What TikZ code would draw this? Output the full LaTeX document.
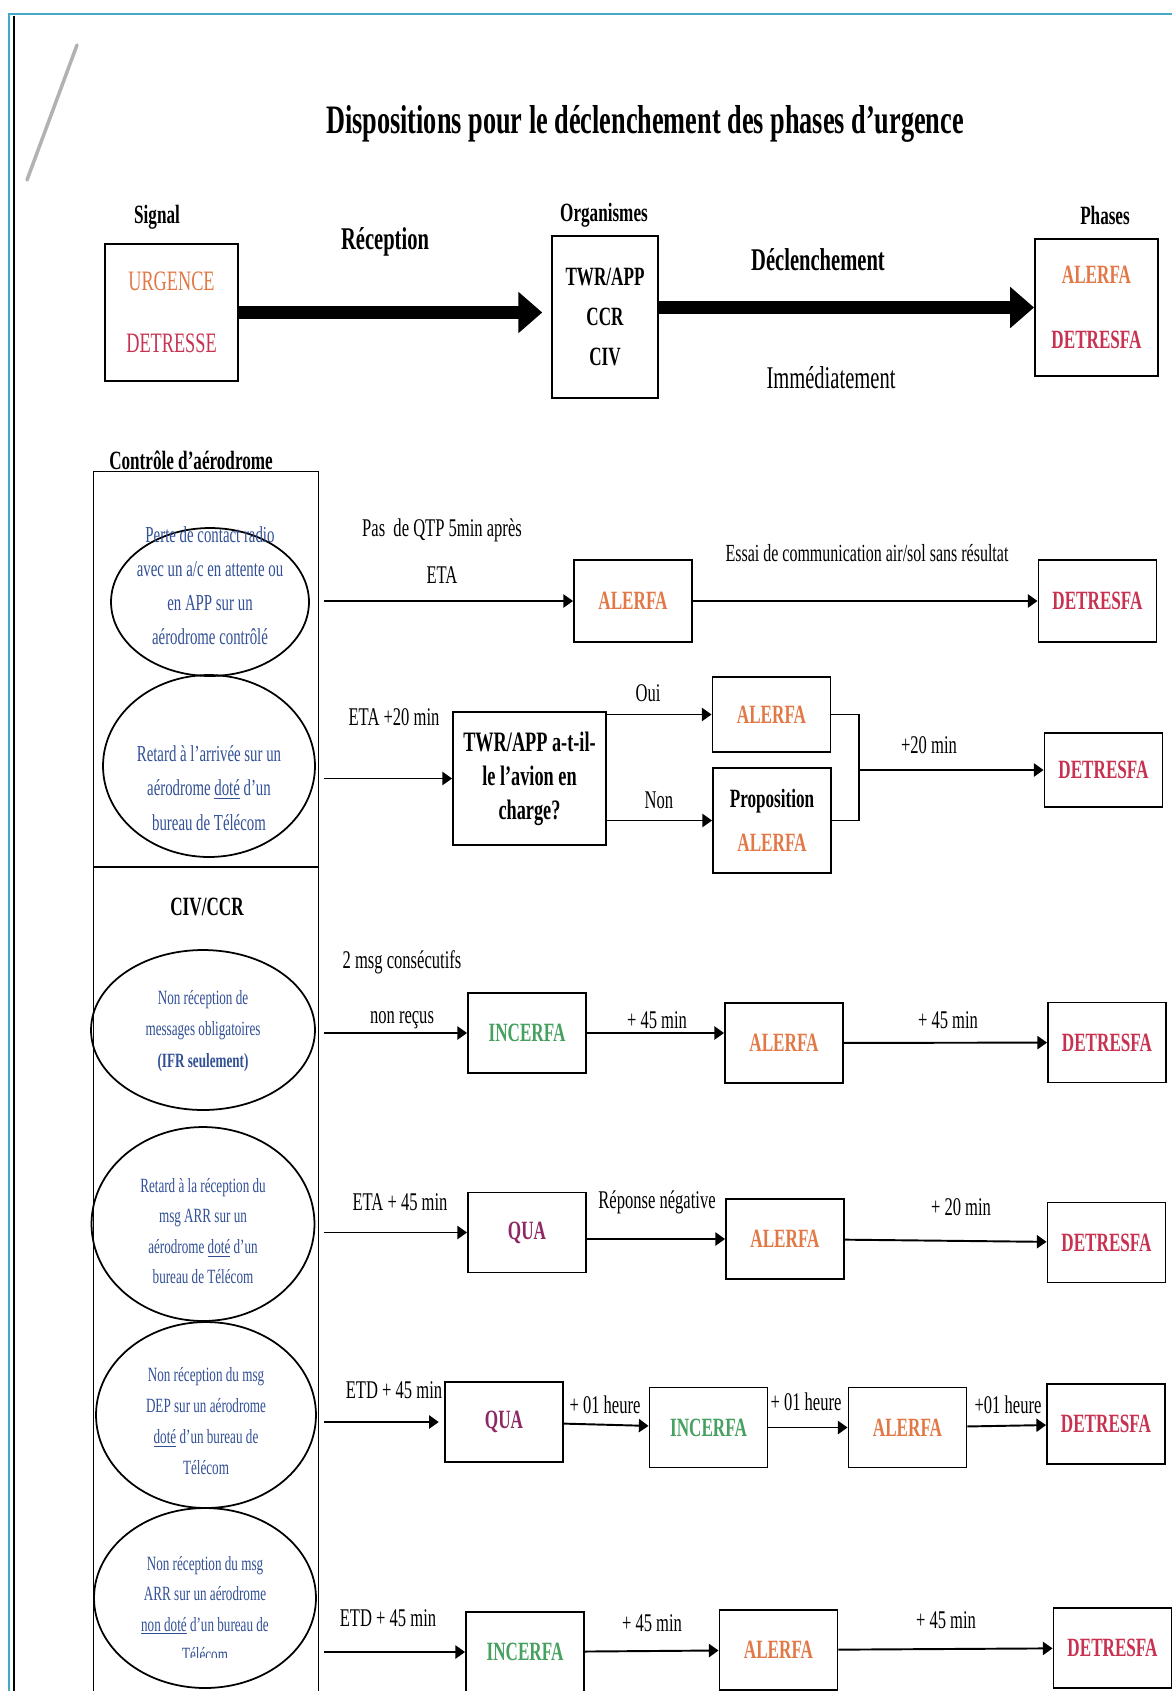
\documentclass[tikz,border=0pt]{standalone}
\usepackage{fontspec}
\setmainfont{Liberation Serif}[FakeStretch=0.65]
\usepackage{tikz}
\usetikzlibrary{arrows.meta,positioning,shapes.geometric}

\definecolor{alertc}{RGB}{226,120,70}
\definecolor{distc}{RGB}{200,50,80}
\definecolor{incc}{RGB}{70,160,95}
\definecolor{quac}{RGB}{140,40,100}
\definecolor{condc}{RGB}{50,80,150}
\definecolor{framec}{RGB}{69,169,198}

\begin{document}
\begin{tikzpicture}[x=0.02cm, y=-0.02cm,
  phasebox/.style={rectangle, draw, line width=1.1pt, minimum width=2.36cm, minimum height=1.6cm,
    inner sep=0pt, align=center, font=\fontsize{15}{18}\selectfont\bfseries},
  orgbox/.style={rectangle, draw, line width=1.1pt, inner sep=0pt, align=center},
  cond/.style={ellipse, draw, line width=1pt, inner sep=0pt},
  condtxt/.style={align=center, text=condc, inner sep=0pt},
  lbl/.style={font=\fontsize{14.5}{17}\selectfont, inner sep=1pt},
  head/.style={font=\fontsize{15}{18}\selectfont\bfseries, inner sep=1pt},
  arr/.style={-{Triangle[length=5.5pt,width=7.5pt]}, line width=1.1pt},
  bigarr/.style={-{Triangle[length=13.6pt,width=22.7pt]}, line width=7.4pt}
]
\useasboundingbox (0,0) rectangle (1172,1691);
\fill[white] (0,0) rectangle (1172,1691);

% page edge and pen mark
\draw[framec, line width=1.7pt] (9,1691) -- (9,14) -- (1172,14);
\draw[line width=0.6pt] (14,16) -- (14,1691);
\draw[gray!60, line width=2pt, line cap=round] (27,180) -- (77,45);

\node[font=\fontsize{23}{27}\selectfont\bfseries] (title) at (645,124) {Dispositions pour le déclenchement des phases d’urgence};

% header row
\node[head] (lblsig) at (157,217) {Signal};
\node[head] (lblorg) at (604,215) {Organismes};
\node[head] (lblpha) at (1105,215) {Phases};

\node[orgbox, minimum width=2.66cm, minimum height=2.74cm, font=\fontsize{16}{35}\selectfont] (sig) at (171.5,312.5)
  {\textcolor{alertc}{URGENCE}\\\textcolor{distc}{DETRESSE}};
\node[orgbox, minimum width=2.12cm, minimum height=3.24cm, font=\fontsize{15}{22.7}\selectfont\bfseries] (org) at (605,317)
  {TWR/APP\\CCR\\CIV};
\node[orgbox, minimum width=2.46cm, minimum height=2.74cm, font=\fontsize{15}{37}\selectfont\bfseries] (pha) at (1096.5,307.5)
  {\textcolor{alertc}{ALERFA}\\\textcolor{distc}{DETRESFA}};

\node[font=\fontsize{18}{21}\selectfont\bfseries] (recep) at (385,242) {Réception};
\node[font=\fontsize{18}{21}\selectfont\bfseries] (declen) at (818,260) {Déclenchement};
\node[font=\fontsize{18}{21}\selectfont] (immed) at (831,378) {Immédiatement};

\draw[bigarr, shorten >=5pt] (sig.east) -- (sig.east -| org.west);
\draw[bigarr] (org.east |- pha) -- (pha.west);

% left column
\node[draw, line width=0.8pt, anchor=north west, minimum width=4.5cm, minimum height=25cm, inner sep=0pt] (ctrl) at (93,471) {};
\node[head, anchor=base] (lblctrl) at (191,469) {Contrôle d’aérodrome};
\coordinate (divl) at (93,867);
\draw[line width=0.8pt] (divl) -- (divl -| ctrl.east);
\node[head] (lblciv) at (207,907) {CIV/CCR};

\node[cond, minimum width=3.96cm, minimum height=2.96cm] (e1) at (210,602) {};
\node[cond, minimum width=4.24cm, minimum height=3.64cm] (e2) at (209,766) {};
\node[cond, minimum width=4.48cm, minimum height=3.2cm] (e3) at (203,1030) {};
\node[cond, minimum width=4.46cm, minimum height=3.88cm] (e4) at (203,1224) {};
\node[cond, minimum width=4.4cm, minimum height=3.72cm] (e5) at (206,1415) {};
\node[cond, minimum width=4.44cm, minimum height=3.6cm] (e6) at (205,1598) {};

\node[condtxt, font=\fontsize{13}{19.3}\selectfont] (t1) at (210,586)
  {Perte de contact radio\\avec un a/c en attente ou\\en APP sur un\\aérodrome contrôlé};
\node[condtxt, font=\fontsize{13}{19.5}\selectfont] (t2) at (209,788)
  {Retard à l’arrivée sur un\\aérodrome \underline{doté} d’un\\bureau de Télécom};
\node[condtxt, font=\fontsize{11.5}{17.9}\selectfont] (t3) at (203,1031)
  {Non réception de\\messages obligatoires\\\textbf{(IFR seulement)}};
\node[condtxt, font=\fontsize{11.5}{17.4}\selectfont] (t4) at (203,1231)
  {Retard à la réception du\\msg ARR sur un\\aérodrome \underline{doté} d’un\\bureau de Télécom};
\node[condtxt, font=\fontsize{11.5}{17.6}\selectfont] (t5) at (206,1421)
  {Non réception du msg\\DEP sur un aérodrome\\\underline{doté} d’un bureau de\\Télécom};
\begin{scope}
  \clip (0,0) rectangle (1172,1657);
  \node[condtxt, font=\fontsize{11.5}{17.2}\selectfont] (t6) at (205,1609)
    {Non réception du msg\\ARR sur un aérodrome\\\underline{non doté} d’un bureau de\\Télécom};
\end{scope}

% row 1
\node[phasebox, text=alertc, minimum height=1.64cm] (a1) at (633,601) {ALERFA};
\node[phasebox, text=distc, minimum height=1.64cm] (d1) at (1097.5,601) {DETRESFA};
\node[lbl] (l1a) at (442,530) {Pas~ de QTP 5min après};
\node[lbl] (l1b) at (442,575) {ETA};
\node[lbl, font=\fontsize{14}{16}\selectfont] (l1c) at (867,553) {Essai de communication air/sol sans résultat};
\draw[arr, shorten <=2.5pt] (ctrl.east |- a1) -- (a1);
\draw[arr] (a1) -- (d1);

% row 2
\node[orgbox, minimum width=3.06cm, minimum height=2.66cm, font=\fontsize{16}{19.3}\selectfont\bfseries] (q2) at (529.5,778.5)
  {TWR/APP a-t-il-\\le l’avion en\\charge?};
\node[phasebox, text=alertc, minimum height=1.5cm] (a2) at (771.5,714.5) {ALERFA};
\node[phasebox, minimum height=2.1cm, font=\fontsize{15}{25}\selectfont\bfseries] (p2) at (772,820.5)
  {Proposition\\\textcolor{alertc}{ALERFA}};
\node[phasebox, text=distc, minimum height=1.48cm] (d2) at (1103.5,770) {DETRESFA};
\node[lbl] (l2a) at (394,717) {ETA +20 min};
\node[lbl] (l2b) at (648,693) {Oui};
\node[lbl] (l2c) at (659,800) {Non};
\node[lbl] (l2d) at (929,745) {+20 min};
\draw[arr, shorten <=2.5pt] (ctrl.east |- q2) -- (q2);
\draw[arr] (q2.east |- a2) -- (a2);
\draw[arr] (q2.east |- p2) -- (p2);
\draw[line width=1.1pt] (a2.east) -- ++(28,0) |- (p2.east);
\coordinate (join2) at (859,770);
\draw[arr] (join2) -- (d2);

% row 3
\node[phasebox, text=incc] (i3) at (527,1033) {INCERFA};
\node[phasebox, text=alertc] (a3) at (784,1043) {ALERFA};
\node[phasebox, text=distc] (d3) at (1107,1042.5) {DETRESFA};
\node[lbl] (l3a) at (402,962) {2 msg consécutifs};
\node[lbl] (l3b) at (402,1020) {non reçus};
\node[lbl] (l3c) at (657,1020) {+ 45 min};
\node[lbl] (l3d) at (948,1020) {+ 45 min};
\draw[arr, shorten <=2.5pt] (ctrl.east |- i3) -- (i3);
\draw[arr] (i3.east) -- (i3.east -| a3.west);
\draw[arr] (a3) -- (d3);

% row 4
\node[phasebox, text=quac] (q4) at (527,1232.5) {QUA};
\node[phasebox, text=alertc] (a4) at (785,1239) {ALERFA};
\node[phasebox, text=distc] (d4) at (1106.5,1242.5) {DETRESFA};
\node[lbl] (l4a) at (400,1202) {ETA + 45 min};
\node[lbl] (l4b) at (657,1202) {Réponse négative};
\node[lbl] (l4c) at (961,1207) {+ 20 min};
\draw[arr, shorten <=2.5pt] (ctrl.east |- q4) -- (q4);
\draw[arr] (q4.east |- a4) -- (a4);
\draw[arr] (a4) -- (d4);

% row 5
\node[phasebox, text=quac] (q5) at (504,1422) {QUA};
\node[phasebox, text=incc] (i5) at (708.5,1427.5) {INCERFA};
\node[phasebox, text=alertc] (a5) at (907.5,1427.5) {ALERFA};
\node[phasebox, text=distc] (d5) at (1106,1424) {DETRESFA};
\node[lbl] (l5a) at (394,1390) {ETD + 45 min};
\node[lbl] (l5b) at (605,1405) {+ 01 heure};
\node[lbl] (l5c) at (806,1402) {+ 01 heure};
\node[lbl] (l5d) at (1008,1405) {+01 heure};
\draw[arr, shorten <=2.5pt, shorten >=3pt] (ctrl.east |- q5) -- (q5);
\draw[arr] (q5) -- (i5);
\draw[arr] (i5) -- (a5);
\draw[arr] (a5) -- (d5);

% row 6
\node[phasebox, text=incc] (i6) at (525,1652) {INCERFA};
\node[phasebox, text=alertc] (a6) at (778.5,1650) {ALERFA};
\node[phasebox, text=distc] (d6) at (1112.5,1648) {DETRESFA};
\node[lbl] (l6a) at (388,1618) {ETD + 45 min};
\node[lbl] (l6b) at (652,1623) {+ 45 min};
\node[lbl] (l6c) at (946,1620) {+ 45 min};
\draw[arr, shorten <=2.5pt] (ctrl.east |- i6) -- (i6);
\draw[arr] (i6) -- (a6);
\draw[arr] (a6) -- (d6);

\end{tikzpicture}
\end{document}
